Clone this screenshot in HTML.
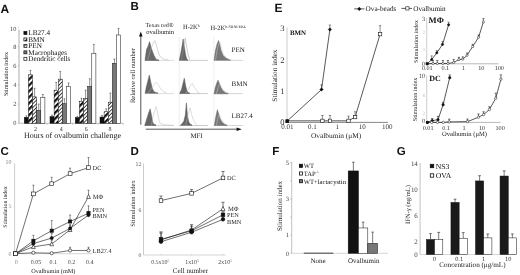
<!DOCTYPE html>
<html><head><meta charset="utf-8"><style>
html,body{margin:0;padding:0;background:#fff;}
svg{display:block;filter:grayscale(1);} text{text-rendering:geometricPrecision;}
</style></head><body>
<svg width="520" height="275" viewBox="0 0 520 275">
<defs>
<pattern id="pBMN" patternUnits="userSpaceOnUse" width="4.2" height="4.2" patternTransform="rotate(45)">
  <rect width="4.2" height="4.2" fill="#fff"/><rect width="2.2" height="4.2" fill="#111"/>
</pattern>
<pattern id="pPEN" patternUnits="userSpaceOnUse" width="2.6" height="2.6" patternTransform="rotate(45)">
  <rect width="2.6" height="2.6" fill="#fff"/><rect width="0.9" height="2.6" fill="#333"/>
</pattern>
</defs>
<rect width="520" height="275" fill="#fff"/>
<text x="0.50" y="12.50" font-size="12" text-anchor="start" fill="#111" font-weight="bold" font-family='"Liberation Sans", sans-serif'>A</text>
<line x1="19.00" y1="29.50" x2="19.00" y2="123.30" stroke="#777" stroke-width="0.6"/>
<line x1="19.00" y1="123.30" x2="123.50" y2="123.30" stroke="#999" stroke-width="0.6"/>
<line x1="17.80" y1="123.30" x2="19.00" y2="123.30" stroke="#777" stroke-width="0.4"/>
<text x="16.40" y="125.40" font-size="6.3" text-anchor="end" fill="#444" font-weight="normal" font-family='"Liberation Serif", serif'>0</text>
<line x1="17.80" y1="104.10" x2="19.00" y2="104.10" stroke="#777" stroke-width="0.4"/>
<text x="16.40" y="106.20" font-size="6.3" text-anchor="end" fill="#444" font-weight="normal" font-family='"Liberation Serif", serif'>2</text>
<line x1="17.80" y1="84.90" x2="19.00" y2="84.90" stroke="#777" stroke-width="0.4"/>
<text x="16.40" y="87.00" font-size="6.3" text-anchor="end" fill="#444" font-weight="normal" font-family='"Liberation Serif", serif'>4</text>
<line x1="17.80" y1="65.70" x2="19.00" y2="65.70" stroke="#777" stroke-width="0.4"/>
<text x="16.40" y="67.80" font-size="6.3" text-anchor="end" fill="#444" font-weight="normal" font-family='"Liberation Serif", serif'>6</text>
<line x1="17.80" y1="46.50" x2="19.00" y2="46.50" stroke="#777" stroke-width="0.4"/>
<text x="16.40" y="48.60" font-size="6.3" text-anchor="end" fill="#444" font-weight="normal" font-family='"Liberation Serif", serif'>8</text>
<line x1="17.80" y1="27.30" x2="19.00" y2="27.30" stroke="#777" stroke-width="0.4"/>
<text x="16.40" y="31.40" font-size="6.3" text-anchor="end" fill="#444" font-weight="normal" font-family='"Liberation Serif", serif'>10</text>
<line x1="47.20" y1="123.30" x2="47.20" y2="124.80" stroke="#999" stroke-width="0.5"/>
<line x1="72.60" y1="123.30" x2="72.60" y2="124.80" stroke="#999" stroke-width="0.5"/>
<line x1="97.80" y1="123.30" x2="97.80" y2="124.80" stroke="#999" stroke-width="0.5"/>
<line x1="123.20" y1="123.30" x2="123.20" y2="124.80" stroke="#999" stroke-width="0.5"/>
<text x="7.60" y="74.00" font-size="6.2" text-anchor="middle" fill="#222" font-weight="normal" font-family='"Liberation Serif", serif' transform="rotate(-90 7.60 74.00)">Stimulation index</text>
<text x="72.50" y="138.00" font-size="8.0" text-anchor="middle" fill="#222" font-weight="normal" font-family='"Liberation Serif", serif'>Hours of ovalbumin challenge</text>
<text x="35.40" y="131.30" font-size="6" text-anchor="middle" fill="#333" font-weight="normal" font-family='"Liberation Serif", serif'>2</text>
<text x="61.20" y="131.30" font-size="6" text-anchor="middle" fill="#333" font-weight="normal" font-family='"Liberation Serif", serif'>4</text>
<text x="86.20" y="131.30" font-size="6" text-anchor="middle" fill="#333" font-weight="normal" font-family='"Liberation Serif", serif'>6</text>
<text x="110.00" y="131.30" font-size="6" text-anchor="middle" fill="#333" font-weight="normal" font-family='"Liberation Serif", serif'>8</text>
<rect x="24.30" y="117.25" width="4.12" height="6.05" fill="#111" stroke="#111" stroke-width="0.5"/>
<line x1="26.36" y1="117.25" x2="26.36" y2="115.81" stroke="#222" stroke-width="0.5"/>
<line x1="25.46" y1="115.81" x2="27.26" y2="115.81" stroke="#222" stroke-width="0.5"/>
<rect x="28.42" y="74.82" width="4.12" height="48.48" fill="url(#pBMN)" stroke="#111" stroke-width="0.5"/>
<line x1="30.48" y1="74.82" x2="30.48" y2="70.50" stroke="#222" stroke-width="0.5"/>
<line x1="29.58" y1="70.50" x2="31.38" y2="70.50" stroke="#222" stroke-width="0.5"/>
<rect x="32.54" y="96.90" width="4.12" height="26.40" fill="url(#pPEN)" stroke="#111" stroke-width="0.5"/>
<line x1="34.60" y1="96.90" x2="34.60" y2="88.26" stroke="#222" stroke-width="0.5"/>
<line x1="33.70" y1="88.26" x2="35.50" y2="88.26" stroke="#222" stroke-width="0.5"/>
<rect x="36.66" y="110.34" width="4.12" height="12.96" fill="#777" stroke="#111" stroke-width="0.5"/>
<line x1="38.72" y1="110.34" x2="38.72" y2="104.10" stroke="#222" stroke-width="0.5"/>
<line x1="37.82" y1="104.10" x2="39.62" y2="104.10" stroke="#222" stroke-width="0.5"/>
<rect x="40.78" y="97.38" width="4.12" height="25.92" fill="#fff" stroke="#111" stroke-width="0.5"/>
<line x1="42.84" y1="97.38" x2="42.84" y2="94.50" stroke="#222" stroke-width="0.5"/>
<line x1="41.94" y1="94.50" x2="43.74" y2="94.50" stroke="#222" stroke-width="0.5"/>
<rect x="50.00" y="116.58" width="4.12" height="6.72" fill="#111" stroke="#111" stroke-width="0.5"/>
<line x1="52.06" y1="116.58" x2="52.06" y2="115.14" stroke="#222" stroke-width="0.5"/>
<line x1="51.16" y1="115.14" x2="52.96" y2="115.14" stroke="#222" stroke-width="0.5"/>
<rect x="54.12" y="90.18" width="4.12" height="33.12" fill="url(#pBMN)" stroke="#111" stroke-width="0.5"/>
<line x1="56.18" y1="90.18" x2="56.18" y2="82.50" stroke="#222" stroke-width="0.5"/>
<line x1="55.28" y1="82.50" x2="57.08" y2="82.50" stroke="#222" stroke-width="0.5"/>
<rect x="58.24" y="79.14" width="4.12" height="44.16" fill="url(#pPEN)" stroke="#111" stroke-width="0.5"/>
<line x1="60.30" y1="79.14" x2="60.30" y2="71.46" stroke="#222" stroke-width="0.5"/>
<line x1="59.40" y1="71.46" x2="61.20" y2="71.46" stroke="#222" stroke-width="0.5"/>
<rect x="62.36" y="103.62" width="4.12" height="19.68" fill="#777" stroke="#111" stroke-width="0.5"/>
<line x1="64.42" y1="103.62" x2="64.42" y2="98.82" stroke="#222" stroke-width="0.5"/>
<line x1="63.52" y1="98.82" x2="65.32" y2="98.82" stroke="#222" stroke-width="0.5"/>
<rect x="66.48" y="86.34" width="4.12" height="36.96" fill="#fff" stroke="#111" stroke-width="0.5"/>
<line x1="68.54" y1="86.34" x2="68.54" y2="82.98" stroke="#222" stroke-width="0.5"/>
<line x1="67.64" y1="82.98" x2="69.44" y2="82.98" stroke="#222" stroke-width="0.5"/>
<rect x="75.30" y="117.54" width="4.12" height="5.76" fill="#111" stroke="#111" stroke-width="0.5"/>
<line x1="77.36" y1="117.54" x2="77.36" y2="116.39" stroke="#222" stroke-width="0.5"/>
<line x1="76.46" y1="116.39" x2="78.26" y2="116.39" stroke="#222" stroke-width="0.5"/>
<rect x="79.42" y="101.22" width="4.12" height="22.08" fill="url(#pBMN)" stroke="#111" stroke-width="0.5"/>
<line x1="81.48" y1="101.22" x2="81.48" y2="98.34" stroke="#222" stroke-width="0.5"/>
<line x1="80.58" y1="98.34" x2="82.38" y2="98.34" stroke="#222" stroke-width="0.5"/>
<rect x="83.54" y="98.34" width="4.12" height="24.96" fill="url(#pPEN)" stroke="#111" stroke-width="0.5"/>
<line x1="85.60" y1="98.34" x2="85.60" y2="90.18" stroke="#222" stroke-width="0.5"/>
<line x1="84.70" y1="90.18" x2="86.50" y2="90.18" stroke="#222" stroke-width="0.5"/>
<rect x="87.66" y="86.44" width="4.12" height="36.86" fill="#777" stroke="#111" stroke-width="0.5"/>
<line x1="89.72" y1="86.44" x2="89.72" y2="78.76" stroke="#222" stroke-width="0.5"/>
<line x1="88.82" y1="78.76" x2="90.62" y2="78.76" stroke="#222" stroke-width="0.5"/>
<rect x="91.78" y="53.22" width="4.12" height="70.08" fill="#fff" stroke="#111" stroke-width="0.5"/>
<line x1="93.84" y1="53.22" x2="93.84" y2="44.39" stroke="#222" stroke-width="0.5"/>
<line x1="92.94" y1="44.39" x2="94.74" y2="44.39" stroke="#222" stroke-width="0.5"/>
<rect x="100.00" y="117.06" width="4.12" height="6.24" fill="#111" stroke="#111" stroke-width="0.5"/>
<line x1="102.06" y1="117.06" x2="102.06" y2="115.62" stroke="#222" stroke-width="0.5"/>
<line x1="101.16" y1="115.62" x2="102.96" y2="115.62" stroke="#222" stroke-width="0.5"/>
<rect x="104.12" y="111.78" width="4.12" height="11.52" fill="url(#pBMN)" stroke="#111" stroke-width="0.5"/>
<line x1="106.18" y1="111.78" x2="106.18" y2="108.90" stroke="#222" stroke-width="0.5"/>
<line x1="105.28" y1="108.90" x2="107.08" y2="108.90" stroke="#222" stroke-width="0.5"/>
<rect x="108.24" y="102.18" width="4.12" height="21.12" fill="url(#pPEN)" stroke="#111" stroke-width="0.5"/>
<line x1="110.30" y1="102.18" x2="110.30" y2="93.06" stroke="#222" stroke-width="0.5"/>
<line x1="109.40" y1="93.06" x2="111.20" y2="93.06" stroke="#222" stroke-width="0.5"/>
<rect x="112.36" y="63.30" width="4.12" height="60.00" fill="#777" stroke="#111" stroke-width="0.5"/>
<line x1="114.42" y1="63.30" x2="114.42" y2="58.98" stroke="#222" stroke-width="0.5"/>
<line x1="113.52" y1="58.98" x2="115.32" y2="58.98" stroke="#222" stroke-width="0.5"/>
<rect x="116.48" y="34.98" width="4.12" height="88.32" fill="#fff" stroke="#111" stroke-width="0.5"/>
<line x1="118.54" y1="34.98" x2="118.54" y2="28.45" stroke="#222" stroke-width="0.5"/>
<line x1="117.64" y1="28.45" x2="119.44" y2="28.45" stroke="#222" stroke-width="0.5"/>
<rect x="23.90" y="31.50" width="3.00" height="3.00" fill="#111" stroke="#111" stroke-width="0.7"/>
<text x="28.30" y="35.30" font-size="7.2" text-anchor="start" fill="#111" font-weight="normal" font-family='"Liberation Serif", serif'>LB27.4</text>
<rect x="23.90" y="37.95" width="3.00" height="3.00" fill="url(#pBMN)" stroke="#111" stroke-width="0.7"/>
<text x="28.30" y="41.75" font-size="7.2" text-anchor="start" fill="#111" font-weight="normal" font-family='"Liberation Serif", serif'>BMN</text>
<rect x="23.90" y="44.40" width="3.00" height="3.00" fill="url(#pPEN)" stroke="#111" stroke-width="0.7"/>
<text x="28.30" y="48.20" font-size="7.2" text-anchor="start" fill="#111" font-weight="normal" font-family='"Liberation Serif", serif'>PEN</text>
<rect x="23.90" y="50.85" width="3.00" height="3.00" fill="#777" stroke="#111" stroke-width="0.7"/>
<text x="28.30" y="54.65" font-size="7.2" text-anchor="start" fill="#111" font-weight="normal" font-family='"Liberation Serif", serif'>Macrophages</text>
<rect x="23.90" y="57.30" width="3.00" height="3.00" fill="#fff" stroke="#111" stroke-width="0.7"/>
<text x="28.30" y="61.10" font-size="7.2" text-anchor="start" fill="#111" font-weight="normal" font-family='"Liberation Serif", serif'>Dendritic cells</text>
<text x="130.60" y="10.00" font-size="11.5" text-anchor="start" fill="#111" font-weight="bold" font-family='"Liberation Sans", sans-serif'>B</text>
<text x="159.50" y="27.00" font-size="6.1" text-anchor="middle" fill="#222" font-weight="normal" font-family='"Liberation Serif", serif'>Texas red&#174;</text>
<text x="160.20" y="34.20" font-size="6.5" text-anchor="middle" fill="#222" font-weight="normal" font-family='"Liberation Serif", serif'>ovalbumin</text>
<text x="183.00" y="29.40" font-size="6.5" text-anchor="start" fill="#222" font-weight="normal" font-family='"Liberation Serif", serif'>H-2K<tspan font-size="3.8" dy="-2.2">b</tspan></text>
<text x="210.40" y="29.50" font-size="6.5" text-anchor="start" fill="#222" font-weight="normal" font-family='"Liberation Serif", serif'>H-2K<tspan font-size="4.0" dy="-2.0">b-SIINFEKL</tspan></text>
<line x1="140.80" y1="35.00" x2="140.80" y2="124.70" stroke="#555" stroke-width="1.0"/>
<path d="M140.8 31.6 L142.6 36.4 L139.0 36.4 Z" fill="#111" stroke="none" stroke-width="0.7"/>
<text x="135.00" y="75.60" font-size="6.6" text-anchor="middle" fill="#222" font-weight="normal" font-family='"Liberation Serif", serif' transform="rotate(-90 135.00 75.60)">Relative cell number</text>
<line x1="145.80" y1="129.20" x2="237.00" y2="129.20" stroke="#555" stroke-width="1.0"/>
<path d="M241.8 129.2 L236.6 127.4 L236.6 131.0 Z" fill="#111" stroke="none" stroke-width="0.7"/>
<text x="196.50" y="138.30" font-size="6.8" text-anchor="middle" fill="#222" font-weight="normal" font-family='"Liberation Serif", serif'>MFI</text>
<text x="231.60" y="51.80" font-size="7.0" text-anchor="start" fill="#222" font-weight="normal" font-family='"Liberation Serif", serif'>PEN</text>
<text x="231.60" y="85.80" font-size="7.0" text-anchor="start" fill="#222" font-weight="normal" font-family='"Liberation Serif", serif'>BMN</text>
<text x="231.60" y="118.20" font-size="7.0" text-anchor="start" fill="#222" font-weight="normal" font-family='"Liberation Serif", serif'>LB27.4</text>
<line x1="179.20" y1="37.00" x2="179.20" y2="127.00" stroke="#e2e2e2" stroke-width="0.6"/>
<line x1="213.90" y1="37.00" x2="213.90" y2="127.00" stroke="#e2e2e2" stroke-width="0.6"/>
<line x1="145.00" y1="60.40" x2="174.00" y2="60.40" stroke="#c4c4c4" stroke-width="0.6"/>
<line x1="179.50" y1="60.40" x2="208.00" y2="60.40" stroke="#aaa" stroke-width="0.6"/>
<line x1="213.80" y1="60.40" x2="243.00" y2="60.40" stroke="#bbb" stroke-width="0.6"/>
<line x1="145.00" y1="93.60" x2="174.00" y2="93.60" stroke="#c4c4c4" stroke-width="0.6"/>
<line x1="179.50" y1="93.60" x2="208.00" y2="93.60" stroke="#aaa" stroke-width="0.6"/>
<line x1="213.80" y1="93.60" x2="243.00" y2="93.60" stroke="#bbb" stroke-width="0.6"/>
<line x1="145.00" y1="125.50" x2="174.00" y2="125.50" stroke="#c4c4c4" stroke-width="0.6"/>
<line x1="179.50" y1="125.50" x2="208.00" y2="125.50" stroke="#aaa" stroke-width="0.6"/>
<line x1="213.80" y1="125.50" x2="243.00" y2="125.50" stroke="#bbb" stroke-width="0.6"/>
<path d="M145.00 60.40 L146.50 49.40 L148.00 46.40 L149.60 41.60 L151.00 47.40 L152.50 51.40 L154.00 55.40 L156.20 59.40 L159.00 60.20 L159.00 60.40 Z" fill="#6a6a6a" stroke="#555" stroke-width="0.5"/>
<path d="M147.50 60.40 L150.50 50.40 L152.50 44.40 L154.70 40.60 L156.50 45.40 L158.00 51.40 L160.00 56.40 L163.00 58.90 L168.40 60.10" fill="none" stroke="#aaa" stroke-width="0.5" stroke-linejoin="round"/>
<path d="M179.30 60.20 L181.00 52.20 L182.20 45.20 L183.10 39.00 L184.20 46.20 L185.50 54.20 L186.70 59.00 L188.00 60.00 L188.00 60.20 Z" fill="#666" stroke="#555" stroke-width="0.5"/>
<path d="M181.50 60.20 L183.50 48.20 L185.20 38.20 L186.50 46.20 L188.00 54.20 L189.70 59.70" fill="none" stroke="#999" stroke-width="0.5" stroke-linejoin="round"/>
<path d="M214.10 60.20 L215.50 50.20 L217.00 44.20 L218.50 40.60 L219.50 43.20 L221.00 50.20 L223.00 55.20 L226.00 58.20 L230.30 60.00 L230.30 60.20 Z" fill="#777" stroke="#666" stroke-width="0.5"/>
<path d="M215.50 60.20 L217.50 48.20 L219.60 41.20 L221.50 48.20 L224.00 55.20 L228.00 58.70 L232.00 60.00" fill="none" stroke="#ccc" stroke-width="0.5" stroke-linejoin="round"/>
<path d="M145.10 93.20 L146.50 86.20 L147.80 81.20 L149.30 75.10 L150.80 82.20 L152.20 88.20 L153.80 91.40 L156.00 92.70 L158.00 93.10 L158.00 93.20 Z" fill="#666" stroke="#555" stroke-width="0.5"/>
<path d="M148.00 93.20 L151.00 89.20 L153.50 85.20 L156.20 82.20 L158.50 85.20 L161.00 89.20 L163.50 91.70 L166.40 92.90" fill="none" stroke="#bbb" stroke-width="0.5" stroke-linejoin="round"/>
<path d="M179.60 93.40 L181.50 89.40 L183.00 83.40 L184.30 78.20 L185.50 85.40 L187.00 90.90 L188.70 92.90 L190.00 93.30 L190.00 93.40 Z" fill="#666" stroke="#555" stroke-width="0.5"/>
<path d="M186.00 93.40 L188.50 89.40 L190.50 85.40 L192.30 83.30 L194.50 87.40 L197.00 91.40 L199.40 93.10" fill="none" stroke="#bbb" stroke-width="0.5" stroke-linejoin="round"/>
<path d="M214.10 93.80 L215.20 87.80 L216.50 83.80 L218.00 80.20 L219.50 83.80 L221.00 87.80 L223.00 90.80 L225.50 92.80 L228.30 93.60 L228.30 93.80 Z" fill="#777" stroke="#666" stroke-width="0.5"/>
<path d="M216.50 93.80 L218.50 85.80 L220.00 83.80 L222.00 87.80 L225.00 91.30 L229.00 93.50" fill="none" stroke="#ccc" stroke-width="0.5" stroke-linejoin="round"/>
<path d="M144.70 125.40 L146.00 121.40 L147.50 116.40 L148.80 112.40 L150.20 108.90 L151.50 115.40 L152.60 121.40 L153.50 123.90 L156.00 125.10 L156.00 125.40 Z" fill="#666" stroke="#555" stroke-width="0.5"/>
<path d="M151.50 125.40 L153.00 116.40 L154.80 110.40 L156.20 106.70 L157.50 113.40 L158.80 119.40 L160.00 123.40 L165.00 124.80 L173.60 125.20" fill="none" stroke="#bbb" stroke-width="0.5" stroke-linejoin="round"/>
<path d="M180.40 125.30 L182.00 123.80 L183.80 121.30 L185.30 115.30 L186.40 102.90 L187.40 115.30 L188.60 121.30 L190.00 124.10 L192.00 125.00 L192.00 125.30 Z" fill="#666" stroke="#555" stroke-width="0.5"/>
<path d="M185.50 125.30 L187.50 117.30 L189.00 111.30 L190.20 107.80 L191.50 114.30 L193.50 120.30 L196.70 124.80" fill="none" stroke="#bbb" stroke-width="0.5" stroke-linejoin="round"/>
<path d="M214.40 125.40 L215.30 119.40 L216.30 114.40 L217.40 109.70 L218.50 113.40 L220.00 118.40 L222.00 121.90 L224.50 124.20 L227.00 125.20 L227.00 125.40 Z" fill="#777" stroke="#666" stroke-width="0.5"/>
<path d="M216.50 125.40 L218.00 117.40 L219.50 114.40 L221.00 118.40 L224.00 122.90 L228.00 125.10" fill="none" stroke="#ccc" stroke-width="0.5" stroke-linejoin="round"/>
<text x="0.50" y="154.90" font-size="11.5" text-anchor="start" fill="#111" font-weight="bold" font-family='"Liberation Sans", sans-serif'>C</text>
<line x1="14.60" y1="163.50" x2="14.60" y2="253.70" stroke="#aaa" stroke-width="0.6"/>
<line x1="14.60" y1="253.70" x2="92.00" y2="253.70" stroke="#bbb" stroke-width="0.6"/>
<text x="11.40" y="255.70" font-size="5.9" text-anchor="end" fill="#888" font-weight="normal" font-family='"Liberation Serif", serif'>0</text>
<text x="11.40" y="208.00" font-size="5.9" text-anchor="end" fill="#888" font-weight="normal" font-family='"Liberation Serif", serif'>5</text>
<text x="11.40" y="164.40" font-size="5.9" text-anchor="end" fill="#888" font-weight="normal" font-family='"Liberation Serif", serif'>10</text>
<text x="16.20" y="264.10" font-size="6.0" text-anchor="middle" fill="#888" font-weight="normal" font-family='"Liberation Serif", serif'>0</text>
<text x="36.00" y="264.10" font-size="6.0" text-anchor="middle" fill="#444" font-weight="normal" font-family='"Liberation Serif", serif'>0.05</text>
<text x="53.30" y="264.10" font-size="6.0" text-anchor="middle" fill="#444" font-weight="normal" font-family='"Liberation Serif", serif'>0.1</text>
<text x="71.50" y="264.10" font-size="6.0" text-anchor="middle" fill="#444" font-weight="normal" font-family='"Liberation Serif", serif'>0.2</text>
<text x="89.80" y="264.10" font-size="6.0" text-anchor="middle" fill="#444" font-weight="normal" font-family='"Liberation Serif", serif'>0.4</text>
<text x="7.30" y="207.00" font-size="5.8" text-anchor="middle" fill="#222" font-weight="normal" font-family='"Liberation Serif", serif' transform="rotate(-90 7.30 207.00)">Stimulation index</text>
<text x="53.30" y="272.60" font-size="6.25" text-anchor="middle" fill="#222" font-weight="normal" font-family='"Liberation Serif", serif'>Ovalbumin (mM)</text>
<path d="M15.50 253.70 L33.40 193.90 L51.70 183.78 L70.10 173.66 L88.50 167.68" fill="none" stroke="#111" stroke-width="0.6"/>
<path d="M15.50 253.70 L33.40 246.80 L51.70 244.04 L70.10 229.78 L88.50 196.66" fill="none" stroke="#111" stroke-width="0.6"/>
<path d="M15.50 253.70 L33.40 240.82 L51.70 230.70 L70.10 221.50 L88.50 213.22" fill="none" stroke="#111" stroke-width="0.6"/>
<path d="M15.50 253.70 L33.40 243.58 L51.70 238.06 L70.10 228.40 L88.50 215.06" fill="none" stroke="#111" stroke-width="0.6"/>
<path d="M15.50 253.70 L33.40 252.78 L51.70 253.24 L70.10 250.48 L88.50 250.48" fill="none" stroke="#111" stroke-width="0.6"/>
<line x1="33.40" y1="193.90" x2="33.40" y2="185.16" stroke="#222" stroke-width="0.5"/>
<line x1="32.40" y1="185.16" x2="34.40" y2="185.16" stroke="#222" stroke-width="0.5"/>
<line x1="51.70" y1="183.78" x2="51.70" y2="177.34" stroke="#222" stroke-width="0.5"/>
<line x1="50.70" y1="177.34" x2="52.70" y2="177.34" stroke="#222" stroke-width="0.5"/>
<line x1="70.10" y1="173.66" x2="70.10" y2="168.14" stroke="#222" stroke-width="0.5"/>
<line x1="69.10" y1="168.14" x2="71.10" y2="168.14" stroke="#222" stroke-width="0.5"/>
<line x1="88.50" y1="167.68" x2="88.50" y2="157.56" stroke="#222" stroke-width="0.5"/>
<line x1="87.50" y1="157.56" x2="89.50" y2="157.56" stroke="#222" stroke-width="0.5"/>
<line x1="33.40" y1="246.80" x2="33.40" y2="244.04" stroke="#222" stroke-width="0.5"/>
<line x1="32.40" y1="244.04" x2="34.40" y2="244.04" stroke="#222" stroke-width="0.5"/>
<line x1="51.70" y1="244.04" x2="51.70" y2="240.36" stroke="#222" stroke-width="0.5"/>
<line x1="50.70" y1="240.36" x2="52.70" y2="240.36" stroke="#222" stroke-width="0.5"/>
<line x1="70.10" y1="229.78" x2="70.10" y2="225.18" stroke="#222" stroke-width="0.5"/>
<line x1="69.10" y1="225.18" x2="71.10" y2="225.18" stroke="#222" stroke-width="0.5"/>
<line x1="88.50" y1="196.66" x2="88.50" y2="190.22" stroke="#222" stroke-width="0.5"/>
<line x1="87.50" y1="190.22" x2="89.50" y2="190.22" stroke="#222" stroke-width="0.5"/>
<line x1="33.40" y1="240.82" x2="33.40" y2="235.30" stroke="#222" stroke-width="0.5"/>
<line x1="32.40" y1="235.30" x2="34.40" y2="235.30" stroke="#222" stroke-width="0.5"/>
<line x1="51.70" y1="230.70" x2="51.70" y2="220.58" stroke="#222" stroke-width="0.5"/>
<line x1="50.70" y1="220.58" x2="52.70" y2="220.58" stroke="#222" stroke-width="0.5"/>
<line x1="70.10" y1="221.50" x2="70.10" y2="215.06" stroke="#222" stroke-width="0.5"/>
<line x1="69.10" y1="215.06" x2="71.10" y2="215.06" stroke="#222" stroke-width="0.5"/>
<line x1="88.50" y1="213.22" x2="88.50" y2="205.86" stroke="#222" stroke-width="0.5"/>
<line x1="87.50" y1="205.86" x2="89.50" y2="205.86" stroke="#222" stroke-width="0.5"/>
<line x1="33.40" y1="243.58" x2="33.40" y2="239.90" stroke="#222" stroke-width="0.5"/>
<line x1="32.40" y1="239.90" x2="34.40" y2="239.90" stroke="#222" stroke-width="0.5"/>
<line x1="51.70" y1="238.06" x2="51.70" y2="233.46" stroke="#222" stroke-width="0.5"/>
<line x1="50.70" y1="233.46" x2="52.70" y2="233.46" stroke="#222" stroke-width="0.5"/>
<line x1="70.10" y1="228.40" x2="70.10" y2="224.72" stroke="#222" stroke-width="0.5"/>
<line x1="69.10" y1="224.72" x2="71.10" y2="224.72" stroke="#222" stroke-width="0.5"/>
<line x1="88.50" y1="215.06" x2="88.50" y2="211.38" stroke="#222" stroke-width="0.5"/>
<line x1="87.50" y1="211.38" x2="89.50" y2="211.38" stroke="#222" stroke-width="0.5"/>
<line x1="33.40" y1="252.78" x2="33.40" y2="252.32" stroke="#222" stroke-width="0.5"/>
<line x1="32.40" y1="252.32" x2="34.40" y2="252.32" stroke="#222" stroke-width="0.5"/>
<line x1="51.70" y1="253.24" x2="51.70" y2="252.78" stroke="#222" stroke-width="0.5"/>
<line x1="50.70" y1="252.78" x2="52.70" y2="252.78" stroke="#222" stroke-width="0.5"/>
<line x1="70.10" y1="250.48" x2="70.10" y2="247.26" stroke="#222" stroke-width="0.5"/>
<line x1="69.10" y1="247.26" x2="71.10" y2="247.26" stroke="#222" stroke-width="0.5"/>
<line x1="88.50" y1="250.48" x2="88.50" y2="247.26" stroke="#222" stroke-width="0.5"/>
<line x1="87.50" y1="247.26" x2="89.50" y2="247.26" stroke="#222" stroke-width="0.5"/>
<rect x="13.60" y="251.80" width="3.80" height="3.80" fill="#fff" stroke="#111" stroke-width="0.6"/>
<rect x="31.50" y="192.00" width="3.80" height="3.80" fill="#fff" stroke="#111" stroke-width="0.6"/>
<rect x="49.80" y="181.88" width="3.80" height="3.80" fill="#fff" stroke="#111" stroke-width="0.6"/>
<rect x="68.20" y="171.76" width="3.80" height="3.80" fill="#fff" stroke="#111" stroke-width="0.6"/>
<rect x="86.60" y="165.78" width="3.80" height="3.80" fill="#fff" stroke="#111" stroke-width="0.6"/>
<path d="M15.50 251.51 L17.40 255.45 L13.60 255.45 Z" fill="#fff" stroke="#111" stroke-width="0.6"/>
<path d="M33.40 244.61 L35.30 248.55 L31.50 248.55 Z" fill="#fff" stroke="#111" stroke-width="0.6"/>
<path d="M51.70 241.85 L53.60 245.79 L49.80 245.79 Z" fill="#fff" stroke="#111" stroke-width="0.6"/>
<path d="M70.10 227.59 L72.00 231.53 L68.20 231.53 Z" fill="#fff" stroke="#111" stroke-width="0.6"/>
<path d="M88.50 194.47 L90.40 198.41 L86.60 198.41 Z" fill="#fff" stroke="#111" stroke-width="0.6"/>
<rect x="13.90" y="252.10" width="3.20" height="3.20" fill="#111" stroke="#111" stroke-width="0.6"/>
<rect x="31.80" y="239.22" width="3.20" height="3.20" fill="#111" stroke="#111" stroke-width="0.6"/>
<rect x="50.10" y="229.10" width="3.20" height="3.20" fill="#111" stroke="#111" stroke-width="0.6"/>
<rect x="68.50" y="219.90" width="3.20" height="3.20" fill="#111" stroke="#111" stroke-width="0.6"/>
<rect x="86.90" y="211.62" width="3.20" height="3.20" fill="#111" stroke="#111" stroke-width="0.6"/>
<circle cx="15.50" cy="253.70" r="1.60" fill="#111" stroke="#111" stroke-width="0.6"/>
<circle cx="33.40" cy="243.58" r="1.60" fill="#111" stroke="#111" stroke-width="0.6"/>
<circle cx="51.70" cy="238.06" r="1.60" fill="#111" stroke="#111" stroke-width="0.6"/>
<circle cx="70.10" cy="228.40" r="1.60" fill="#111" stroke="#111" stroke-width="0.6"/>
<circle cx="88.50" cy="215.06" r="1.60" fill="#111" stroke="#111" stroke-width="0.6"/>
<circle cx="15.50" cy="253.70" r="1.60" fill="#fff" stroke="#111" stroke-width="0.6"/>
<circle cx="33.40" cy="252.78" r="1.60" fill="#fff" stroke="#111" stroke-width="0.6"/>
<circle cx="51.70" cy="253.24" r="1.60" fill="#fff" stroke="#111" stroke-width="0.6"/>
<circle cx="70.10" cy="250.48" r="1.60" fill="#fff" stroke="#111" stroke-width="0.6"/>
<circle cx="88.50" cy="250.48" r="1.60" fill="#fff" stroke="#111" stroke-width="0.6"/>
<rect x="13.60" y="251.80" width="3.80" height="3.80" fill="#fff" stroke="#111" stroke-width="0.6"/>
<text x="92.60" y="169.50" font-size="6.3" text-anchor="start" fill="#222" font-weight="normal" font-family='"Liberation Serif", serif'>DC</text>
<text x="92.60" y="211.50" font-size="6.3" text-anchor="start" fill="#222" font-weight="normal" font-family='"Liberation Serif", serif'>PEN</text>
<text x="92.60" y="217.80" font-size="6.3" text-anchor="start" fill="#222" font-weight="normal" font-family='"Liberation Serif", serif'>BMN</text>
<text x="92.60" y="253.00" font-size="6.3" text-anchor="start" fill="#222" font-weight="normal" font-family='"Liberation Serif", serif'>LB27.4</text>
<text x="92.70" y="198.70" font-size="6.6" text-anchor="start" fill="#222" font-weight="normal" font-family='"Liberation Serif", serif'>M&#934;</text>
<text x="130.60" y="154.90" font-size="11.5" text-anchor="start" fill="#111" font-weight="bold" font-family='"Liberation Sans", sans-serif'>D</text>
<line x1="143.50" y1="163.50" x2="143.50" y2="255.00" stroke="#aaa" stroke-width="0.6"/>
<line x1="143.50" y1="255.00" x2="225.50" y2="255.00" stroke="#bbb" stroke-width="0.6"/>
<text x="141.30" y="257.00" font-size="5.8" text-anchor="end" fill="#555" font-weight="normal" font-family='"Liberation Serif", serif'>0</text>
<text x="141.30" y="211.52" font-size="5.8" text-anchor="end" fill="#555" font-weight="normal" font-family='"Liberation Serif", serif'>6</text>
<text x="141.30" y="166.04" font-size="5.8" text-anchor="end" fill="#555" font-weight="normal" font-family='"Liberation Serif", serif'>12</text>
<line x1="161.00" y1="255.00" x2="161.00" y2="253.80" stroke="#bbb" stroke-width="0.5"/>
<line x1="191.60" y1="255.00" x2="191.60" y2="253.80" stroke="#bbb" stroke-width="0.5"/>
<line x1="223.00" y1="255.00" x2="223.00" y2="253.80" stroke="#bbb" stroke-width="0.5"/>
<text x="160.20" y="264.00" font-size="5.9" text-anchor="middle" fill="#444" font-weight="normal" font-family='"Liberation Serif", serif'>0.5x10<tspan font-size="3.6" dy="-2.3">5</tspan></text>
<text x="192.00" y="264.00" font-size="5.9" text-anchor="middle" fill="#444" font-weight="normal" font-family='"Liberation Serif", serif'>1x10<tspan font-size="3.6" dy="-2.3">5</tspan></text>
<text x="225.10" y="264.00" font-size="5.9" text-anchor="middle" fill="#444" font-weight="normal" font-family='"Liberation Serif", serif'>2x10<tspan font-size="3.6" dy="-2.3">5</tspan></text>
<text x="135.40" y="203.50" font-size="6.5" text-anchor="middle" fill="#222" font-weight="normal" font-family='"Liberation Serif", serif' transform="rotate(-90 135.40 203.50)">Stimulation index</text>
<text x="190.50" y="272.60" font-size="7.1" text-anchor="middle" fill="#222" font-weight="normal" font-family='"Liberation Serif", serif'>Cell number</text>
<path d="M161.00 200.58 L191.60 193.37 L223.00 177.91" fill="none" stroke="#111" stroke-width="0.6"/>
<path d="M161.00 239.84 L191.60 229.99 L223.00 208.76" fill="none" stroke="#111" stroke-width="0.6"/>
<path d="M161.00 239.46 L191.60 230.74 L223.00 214.83" fill="none" stroke="#111" stroke-width="0.6"/>
<path d="M161.00 241.74 L191.60 232.26 L223.00 219.37" fill="none" stroke="#111" stroke-width="0.6"/>
<line x1="161.00" y1="200.58" x2="161.00" y2="196.03" stroke="#222" stroke-width="0.6"/>
<line x1="159.40" y1="196.03" x2="162.60" y2="196.03" stroke="#222" stroke-width="0.6"/>
<line x1="191.60" y1="193.37" x2="191.60" y2="189.58" stroke="#222" stroke-width="0.6"/>
<line x1="190.00" y1="189.58" x2="193.20" y2="189.58" stroke="#222" stroke-width="0.6"/>
<line x1="223.00" y1="177.91" x2="223.00" y2="171.47" stroke="#222" stroke-width="0.6"/>
<line x1="221.40" y1="171.47" x2="224.60" y2="171.47" stroke="#222" stroke-width="0.6"/>
<line x1="161.00" y1="239.84" x2="161.00" y2="231.88" stroke="#222" stroke-width="0.6"/>
<line x1="159.40" y1="231.88" x2="162.60" y2="231.88" stroke="#222" stroke-width="0.6"/>
<line x1="191.60" y1="229.99" x2="191.60" y2="224.68" stroke="#222" stroke-width="0.6"/>
<line x1="190.00" y1="224.68" x2="193.20" y2="224.68" stroke="#222" stroke-width="0.6"/>
<line x1="223.00" y1="208.76" x2="223.00" y2="202.32" stroke="#222" stroke-width="0.6"/>
<line x1="221.40" y1="202.32" x2="224.60" y2="202.32" stroke="#222" stroke-width="0.6"/>
<line x1="161.00" y1="239.46" x2="161.00" y2="233.02" stroke="#222" stroke-width="0.6"/>
<line x1="159.40" y1="233.02" x2="162.60" y2="233.02" stroke="#222" stroke-width="0.6"/>
<line x1="191.60" y1="230.74" x2="191.60" y2="226.20" stroke="#222" stroke-width="0.6"/>
<line x1="190.00" y1="226.20" x2="193.20" y2="226.20" stroke="#222" stroke-width="0.6"/>
<line x1="223.00" y1="214.83" x2="223.00" y2="211.79" stroke="#222" stroke-width="0.6"/>
<line x1="221.40" y1="211.79" x2="224.60" y2="211.79" stroke="#222" stroke-width="0.6"/>
<line x1="161.00" y1="241.74" x2="161.00" y2="239.46" stroke="#222" stroke-width="0.6"/>
<line x1="159.40" y1="239.46" x2="162.60" y2="239.46" stroke="#222" stroke-width="0.6"/>
<line x1="191.60" y1="232.26" x2="191.60" y2="229.23" stroke="#222" stroke-width="0.6"/>
<line x1="190.00" y1="229.23" x2="193.20" y2="229.23" stroke="#222" stroke-width="0.6"/>
<line x1="223.00" y1="219.37" x2="223.00" y2="217.10" stroke="#222" stroke-width="0.6"/>
<line x1="221.40" y1="217.10" x2="224.60" y2="217.10" stroke="#222" stroke-width="0.6"/>
<rect x="159.20" y="198.78" width="3.60" height="3.60" fill="#fff" stroke="#111" stroke-width="0.6"/>
<rect x="189.80" y="191.57" width="3.60" height="3.60" fill="#fff" stroke="#111" stroke-width="0.6"/>
<rect x="221.20" y="176.11" width="3.60" height="3.60" fill="#fff" stroke="#111" stroke-width="0.6"/>
<path d="M161.00 237.54 L163.00 241.68 L159.00 241.68 Z" fill="#fff" stroke="#111" stroke-width="0.6"/>
<path d="M191.60 227.69 L193.60 231.83 L189.60 231.83 Z" fill="#fff" stroke="#111" stroke-width="0.6"/>
<path d="M223.00 206.46 L225.00 210.60 L221.00 210.60 Z" fill="#fff" stroke="#111" stroke-width="0.6"/>
<rect x="159.20" y="237.66" width="3.60" height="3.60" fill="#111" stroke="#111" stroke-width="0.6"/>
<rect x="189.80" y="228.94" width="3.60" height="3.60" fill="#111" stroke="#111" stroke-width="0.6"/>
<rect x="221.20" y="213.03" width="3.60" height="3.60" fill="#111" stroke="#111" stroke-width="0.6"/>
<circle cx="161.00" cy="241.74" r="1.80" fill="#111" stroke="#111" stroke-width="0.6"/>
<circle cx="191.60" cy="232.26" r="1.80" fill="#111" stroke="#111" stroke-width="0.6"/>
<circle cx="223.00" cy="219.37" r="1.80" fill="#111" stroke="#111" stroke-width="0.6"/>
<text x="227.00" y="180.20" font-size="6.3" text-anchor="start" fill="#222" font-weight="normal" font-family='"Liberation Serif", serif'>DC</text>
<text x="227.00" y="217.30" font-size="6.3" text-anchor="start" fill="#222" font-weight="normal" font-family='"Liberation Serif", serif'>PEN</text>
<text x="227.00" y="224.40" font-size="6.3" text-anchor="start" fill="#222" font-weight="normal" font-family='"Liberation Serif", serif'>BMN</text>
<text x="227.90" y="210.60" font-size="6.6" text-anchor="start" fill="#222" font-weight="normal" font-family='"Liberation Serif", serif'>M&#934;</text>
<text x="274.60" y="12.00" font-size="12" text-anchor="start" fill="#111" font-weight="bold" font-family='"Liberation Sans", sans-serif'>E</text>
<line x1="287.00" y1="27.50" x2="287.00" y2="122.40" stroke="#aaa" stroke-width="0.6"/>
<line x1="287.00" y1="122.40" x2="388.00" y2="122.40" stroke="#888" stroke-width="1.0"/>
<text x="284.40" y="125.30" font-size="8.5" text-anchor="end" fill="#333" font-weight="normal" font-family='"Liberation Serif", serif'>0</text>
<text x="284.40" y="94.00" font-size="8.5" text-anchor="end" fill="#333" font-weight="normal" font-family='"Liberation Serif", serif'>1</text>
<text x="284.40" y="62.70" font-size="8.5" text-anchor="end" fill="#333" font-weight="normal" font-family='"Liberation Serif", serif'>2</text>
<text x="284.40" y="31.40" font-size="8.5" text-anchor="end" fill="#333" font-weight="normal" font-family='"Liberation Serif", serif'>3</text>
<text x="287.30" y="129.40" font-size="7.0" text-anchor="middle" fill="#333" font-weight="normal" font-family='"Liberation Serif", serif'>0.01</text>
<text x="312.30" y="129.40" font-size="7.0" text-anchor="middle" fill="#333" font-weight="normal" font-family='"Liberation Serif", serif'>0.1</text>
<text x="337.30" y="129.40" font-size="7.0" text-anchor="middle" fill="#333" font-weight="normal" font-family='"Liberation Serif", serif'>1</text>
<text x="362.30" y="129.40" font-size="7.0" text-anchor="middle" fill="#333" font-weight="normal" font-family='"Liberation Serif", serif'>10</text>
<text x="387.30" y="129.40" font-size="7.0" text-anchor="middle" fill="#333" font-weight="normal" font-family='"Liberation Serif", serif'>100</text>
<text x="276.80" y="75.60" font-size="7.3" text-anchor="middle" fill="#222" font-weight="normal" font-family='"Liberation Serif", serif' transform="rotate(-90 276.80 75.60)">Stimulation index</text>
<text x="336.10" y="137.50" font-size="7.35" text-anchor="middle" fill="#222" font-weight="normal" font-family='"Liberation Serif", serif'>Ovalbumin (&#956;M)</text>
<text x="290.00" y="34.50" font-size="6.9" text-anchor="start" fill="#111" font-weight="bold" font-family='"Liberation Serif", serif'>BMN</text>
<path d="M287.40 120.84 L321.50 89.53 L329.90 29.44" fill="none" stroke="#111" stroke-width="0.7"/>
<line x1="321.50" y1="89.53" x2="321.50" y2="84.84" stroke="#222" stroke-width="0.5"/>
<line x1="320.30" y1="84.84" x2="322.70" y2="84.84" stroke="#222" stroke-width="0.5"/>
<line x1="329.90" y1="29.44" x2="329.90" y2="25.06" stroke="#222" stroke-width="0.5"/>
<line x1="328.70" y1="25.06" x2="331.10" y2="25.06" stroke="#222" stroke-width="0.5"/>
<path d="M287.40 119.04 L289.20 120.84 L287.40 122.64 L285.60 120.84 Z" fill="#111" stroke="#111" stroke-width="0.3"/>
<path d="M321.50 87.73 L323.30 89.53 L321.50 91.33 L319.70 89.53 Z" fill="#111" stroke="#111" stroke-width="0.3"/>
<path d="M329.90 27.64 L331.70 29.44 L329.90 31.24 L328.10 29.44 Z" fill="#111" stroke="#111" stroke-width="0.3"/>
<path d="M287.40 120.84 L322.40 120.84 L330.00 120.84 L348.50 120.84 L355.10 117.08 L380.10 34.13" fill="none" stroke="#111" stroke-width="0.7"/>
<line x1="322.40" y1="120.84" x2="322.40" y2="115.51" stroke="#222" stroke-width="0.5"/>
<line x1="321.20" y1="115.51" x2="323.60" y2="115.51" stroke="#222" stroke-width="0.5"/>
<line x1="330.00" y1="120.84" x2="330.00" y2="115.51" stroke="#222" stroke-width="0.5"/>
<line x1="328.80" y1="115.51" x2="331.20" y2="115.51" stroke="#222" stroke-width="0.5"/>
<line x1="348.50" y1="120.84" x2="348.50" y2="116.14" stroke="#222" stroke-width="0.5"/>
<line x1="347.30" y1="116.14" x2="349.70" y2="116.14" stroke="#222" stroke-width="0.5"/>
<line x1="355.10" y1="117.08" x2="355.10" y2="111.76" stroke="#222" stroke-width="0.5"/>
<line x1="353.90" y1="111.76" x2="356.30" y2="111.76" stroke="#222" stroke-width="0.5"/>
<line x1="380.10" y1="34.13" x2="380.10" y2="25.68" stroke="#222" stroke-width="0.5"/>
<line x1="378.90" y1="25.68" x2="381.30" y2="25.68" stroke="#222" stroke-width="0.5"/>
<rect x="320.70" y="119.14" width="3.40" height="3.40" fill="#fff" stroke="#111" stroke-width="0.6"/>
<rect x="328.30" y="119.14" width="3.40" height="3.40" fill="#fff" stroke="#111" stroke-width="0.6"/>
<rect x="346.80" y="119.14" width="3.40" height="3.40" fill="#fff" stroke="#111" stroke-width="0.6"/>
<rect x="353.40" y="115.38" width="3.40" height="3.40" fill="#fff" stroke="#111" stroke-width="0.6"/>
<rect x="378.40" y="32.43" width="3.40" height="3.40" fill="#fff" stroke="#111" stroke-width="0.6"/>
<rect x="285.80" y="119.80" width="3.00" height="3.00" fill="#111" stroke="#111" stroke-width="0.4"/>
<line x1="354.20" y1="8.90" x2="364.40" y2="8.90" stroke="#111" stroke-width="0.7"/>
<path d="M359.30 7.10 L361.10 8.90 L359.30 10.70 L357.50 8.90 Z" fill="#111" stroke="#111" stroke-width="0.3"/>
<text x="365.60" y="11.20" font-size="7.2" text-anchor="start" fill="#111" font-weight="normal" font-family='"Liberation Serif", serif'>Ova-beads</text>
<line x1="401.40" y1="8.40" x2="412.00" y2="8.40" stroke="#111" stroke-width="0.7"/>
<rect x="405.80" y="6.80" width="3.20" height="3.20" fill="#fff" stroke="#111" stroke-width="0.6"/>
<text x="413.30" y="10.80" font-size="7.2" text-anchor="start" fill="#111" font-weight="normal" font-family='"Liberation Serif", serif'>Ovalbumin</text>
<line x1="426.70" y1="18.00" x2="426.70" y2="63.80" stroke="#aaa" stroke-width="0.6"/>
<line x1="426.70" y1="63.80" x2="498.50" y2="63.80" stroke="#999" stroke-width="0.7"/>
<text x="425.20" y="65.70" font-size="6.3" text-anchor="end" fill="#444" font-weight="normal" font-family='"Liberation Serif", serif'>0</text>
<text x="425.20" y="50.60" font-size="5.0" text-anchor="end" fill="#bbb" font-weight="normal" font-family='"Liberation Serif", serif'>1</text>
<text x="425.20" y="34.20" font-size="5.0" text-anchor="end" fill="#bbb" font-weight="normal" font-family='"Liberation Serif", serif'>2</text>
<text x="425.20" y="20.90" font-size="6.3" text-anchor="end" fill="#444" font-weight="normal" font-family='"Liberation Serif", serif'>3</text>
<text x="427.30" y="70.40" font-size="6.2" text-anchor="middle" fill="#333" font-weight="normal" font-family='"Liberation Serif", serif'>0.01</text>
<text x="445.30" y="70.40" font-size="6.2" text-anchor="middle" fill="#333" font-weight="normal" font-family='"Liberation Serif", serif'>0.1</text>
<text x="463.30" y="70.40" font-size="6.2" text-anchor="middle" fill="#333" font-weight="normal" font-family='"Liberation Serif", serif'>1</text>
<text x="481.30" y="70.40" font-size="6.2" text-anchor="middle" fill="#333" font-weight="normal" font-family='"Liberation Serif", serif'>10</text>
<text x="499.30" y="70.40" font-size="6.2" text-anchor="middle" fill="#333" font-weight="normal" font-family='"Liberation Serif", serif'>100</text>
<text x="418.20" y="41.50" font-size="6.0" text-anchor="middle" fill="#222" font-weight="normal" font-family='"Liberation Serif", serif' transform="rotate(-90 418.20 41.50)">Stimulation index</text>
<text x="428.60" y="22.60" font-size="8.6" text-anchor="start" fill="#111" font-weight="bold" font-family='"Liberation Serif", serif'>M&#934;</text>
<path d="M427.20 63.80 L431.70 59.60 L436.80 52.85 L442.50 44.45 L448.60 24.80" fill="none" stroke="#111" stroke-width="0.7"/>
<circle cx="427.20" cy="63.80" r="1.10" fill="#111" stroke="#111" stroke-width="0.6"/>
<line x1="431.70" y1="59.60" x2="431.70" y2="55.85" stroke="#222" stroke-width="0.5"/>
<line x1="430.70" y1="55.85" x2="432.70" y2="55.85" stroke="#222" stroke-width="0.5"/>
<circle cx="431.70" cy="59.60" r="1.10" fill="#111" stroke="#111" stroke-width="0.6"/>
<line x1="436.80" y1="52.85" x2="436.80" y2="50.60" stroke="#222" stroke-width="0.5"/>
<line x1="435.80" y1="50.60" x2="437.80" y2="50.60" stroke="#222" stroke-width="0.5"/>
<circle cx="436.80" cy="52.85" r="1.10" fill="#111" stroke="#111" stroke-width="0.6"/>
<line x1="442.50" y1="44.45" x2="442.50" y2="41.45" stroke="#222" stroke-width="0.5"/>
<line x1="441.50" y1="41.45" x2="443.50" y2="41.45" stroke="#222" stroke-width="0.5"/>
<circle cx="442.50" cy="44.45" r="1.10" fill="#111" stroke="#111" stroke-width="0.6"/>
<line x1="448.60" y1="24.80" x2="448.60" y2="22.25" stroke="#222" stroke-width="0.5"/>
<line x1="447.60" y1="22.25" x2="449.60" y2="22.25" stroke="#222" stroke-width="0.5"/>
<circle cx="448.60" cy="24.80" r="1.10" fill="#111" stroke="#111" stroke-width="0.6"/>
<path d="M427.20 63.80 L433.00 63.50 L437.30 63.50 L442.90 63.50 L447.90 63.50 L453.70 62.45 L458.90 59.60 L462.80 59.15 L467.10 55.25 L472.70 46.55 L478.60 37.25 L483.40 21.95" fill="none" stroke="#111" stroke-width="0.7"/>
<line x1="433.00" y1="63.50" x2="433.00" y2="60.50" stroke="#222" stroke-width="0.6"/>
<line x1="431.90" y1="60.50" x2="434.10" y2="60.50" stroke="#222" stroke-width="0.6"/>
<line x1="437.30" y1="63.50" x2="437.30" y2="60.50" stroke="#222" stroke-width="0.6"/>
<line x1="436.20" y1="60.50" x2="438.40" y2="60.50" stroke="#222" stroke-width="0.6"/>
<line x1="442.90" y1="63.50" x2="442.90" y2="60.50" stroke="#222" stroke-width="0.6"/>
<line x1="441.80" y1="60.50" x2="444.00" y2="60.50" stroke="#222" stroke-width="0.6"/>
<line x1="447.90" y1="63.50" x2="447.90" y2="60.50" stroke="#222" stroke-width="0.6"/>
<line x1="446.80" y1="60.50" x2="449.00" y2="60.50" stroke="#222" stroke-width="0.6"/>
<line x1="453.70" y1="62.45" x2="453.70" y2="59.45" stroke="#222" stroke-width="0.6"/>
<line x1="452.60" y1="59.45" x2="454.80" y2="59.45" stroke="#222" stroke-width="0.6"/>
<line x1="458.90" y1="59.60" x2="458.90" y2="57.35" stroke="#222" stroke-width="0.6"/>
<line x1="457.80" y1="57.35" x2="460.00" y2="57.35" stroke="#222" stroke-width="0.6"/>
<line x1="462.80" y1="59.15" x2="462.80" y2="56.90" stroke="#222" stroke-width="0.6"/>
<line x1="461.70" y1="56.90" x2="463.90" y2="56.90" stroke="#222" stroke-width="0.6"/>
<line x1="467.10" y1="55.25" x2="467.10" y2="53.00" stroke="#222" stroke-width="0.6"/>
<line x1="466.00" y1="53.00" x2="468.20" y2="53.00" stroke="#222" stroke-width="0.6"/>
<line x1="472.70" y1="46.55" x2="472.70" y2="44.30" stroke="#222" stroke-width="0.6"/>
<line x1="471.60" y1="44.30" x2="473.80" y2="44.30" stroke="#222" stroke-width="0.6"/>
<line x1="478.60" y1="37.25" x2="478.60" y2="35.00" stroke="#222" stroke-width="0.6"/>
<line x1="477.50" y1="35.00" x2="479.70" y2="35.00" stroke="#222" stroke-width="0.6"/>
<line x1="483.40" y1="21.95" x2="483.40" y2="18.65" stroke="#222" stroke-width="0.6"/>
<line x1="482.30" y1="18.65" x2="484.50" y2="18.65" stroke="#222" stroke-width="0.6"/>
<circle cx="433.00" cy="63.50" r="1.10" fill="#fff" stroke="#111" stroke-width="0.5"/>
<circle cx="437.30" cy="63.50" r="1.10" fill="#fff" stroke="#111" stroke-width="0.5"/>
<circle cx="442.90" cy="63.50" r="1.10" fill="#fff" stroke="#111" stroke-width="0.5"/>
<circle cx="447.90" cy="63.50" r="1.10" fill="#fff" stroke="#111" stroke-width="0.5"/>
<circle cx="453.70" cy="62.45" r="1.10" fill="#fff" stroke="#111" stroke-width="0.5"/>
<circle cx="458.90" cy="59.60" r="1.10" fill="#fff" stroke="#111" stroke-width="0.5"/>
<circle cx="462.80" cy="59.15" r="1.10" fill="#fff" stroke="#111" stroke-width="0.5"/>
<circle cx="467.10" cy="55.25" r="1.10" fill="#fff" stroke="#111" stroke-width="0.5"/>
<circle cx="472.70" cy="46.55" r="1.10" fill="#fff" stroke="#111" stroke-width="0.5"/>
<circle cx="478.60" cy="37.25" r="1.10" fill="#fff" stroke="#111" stroke-width="0.5"/>
<circle cx="483.40" cy="21.95" r="1.10" fill="#fff" stroke="#111" stroke-width="0.5"/>
<rect x="426.00" y="62.60" width="2.40" height="2.40" fill="#111" stroke="#111" stroke-width="0.3"/>
<line x1="426.70" y1="75.50" x2="426.70" y2="122.40" stroke="#aaa" stroke-width="0.6"/>
<line x1="426.70" y1="122.40" x2="500.50" y2="122.40" stroke="#999" stroke-width="0.7"/>
<text x="425.20" y="78.00" font-size="6.3" text-anchor="end" fill="#444" font-weight="normal" font-family='"Liberation Serif", serif'>10</text>
<text x="425.20" y="96.70" font-size="5.0" text-anchor="end" fill="#bbb" font-weight="normal" font-family='"Liberation Serif", serif'>6</text>
<text x="425.20" y="114.50" font-size="5.0" text-anchor="end" fill="#bbb" font-weight="normal" font-family='"Liberation Serif", serif'>2</text>
<text x="425.20" y="123.20" font-size="6.3" text-anchor="end" fill="#444" font-weight="normal" font-family='"Liberation Serif", serif'>0</text>
<text x="428.10" y="129.60" font-size="6.2" text-anchor="middle" fill="#333" font-weight="normal" font-family='"Liberation Serif", serif'>0.01</text>
<text x="446.10" y="129.60" font-size="6.2" text-anchor="middle" fill="#333" font-weight="normal" font-family='"Liberation Serif", serif'>0.1</text>
<text x="464.10" y="129.60" font-size="6.2" text-anchor="middle" fill="#333" font-weight="normal" font-family='"Liberation Serif", serif'>1</text>
<text x="482.10" y="129.60" font-size="6.2" text-anchor="middle" fill="#333" font-weight="normal" font-family='"Liberation Serif", serif'>10</text>
<text x="500.10" y="129.60" font-size="6.2" text-anchor="middle" fill="#333" font-weight="normal" font-family='"Liberation Serif", serif'>100</text>
<text x="417.20" y="99.40" font-size="6.1" text-anchor="middle" fill="#222" font-weight="normal" font-family='"Liberation Serif", serif' transform="rotate(-90 417.20 99.40)">Stimulation index</text>
<text x="429.30" y="81.10" font-size="8.0" text-anchor="start" fill="#111" font-weight="bold" font-family='"Liberation Serif", serif'>DC</text>
<text x="464.50" y="136.00" font-size="6.6" text-anchor="middle" fill="#222" font-weight="normal" font-family='"Liberation Serif", serif'>Ovalbumin (&#956;M)</text>
<path d="M427.40 122.40 L432.20 120.68 L438.00 119.70 L443.10 104.73 L449.70 77.76" fill="none" stroke="#111" stroke-width="0.7"/>
<circle cx="427.40" cy="122.40" r="1.20" fill="#111" stroke="#111" stroke-width="0.6"/>
<line x1="432.20" y1="120.68" x2="432.20" y2="118.59" stroke="#222" stroke-width="0.6"/>
<line x1="431.00" y1="118.59" x2="433.40" y2="118.59" stroke="#222" stroke-width="0.6"/>
<circle cx="432.20" cy="120.68" r="1.20" fill="#111" stroke="#111" stroke-width="0.6"/>
<line x1="438.00" y1="119.70" x2="438.00" y2="116.45" stroke="#222" stroke-width="0.6"/>
<line x1="436.80" y1="116.45" x2="439.20" y2="116.45" stroke="#222" stroke-width="0.6"/>
<circle cx="438.00" cy="119.70" r="1.20" fill="#111" stroke="#111" stroke-width="0.6"/>
<line x1="443.10" y1="104.73" x2="443.10" y2="102.41" stroke="#222" stroke-width="0.6"/>
<line x1="441.90" y1="102.41" x2="444.30" y2="102.41" stroke="#222" stroke-width="0.6"/>
<circle cx="443.10" cy="104.73" r="1.20" fill="#111" stroke="#111" stroke-width="0.6"/>
<line x1="449.70" y1="77.76" x2="449.70" y2="74.97" stroke="#222" stroke-width="0.6"/>
<line x1="448.50" y1="74.97" x2="450.90" y2="74.97" stroke="#222" stroke-width="0.6"/>
<circle cx="449.70" cy="77.76" r="1.20" fill="#111" stroke="#111" stroke-width="0.6"/>
<path d="M427.40 122.40 L431.70 122.40 L437.50 122.40 L443.20 122.40 L449.20 121.94 L467.50 121.61 L478.50 117.19 L483.60 114.59 L489.40 109.52 L495.80 98.22 L500.90 79.16" fill="none" stroke="#111" stroke-width="0.7"/>
<line x1="449.20" y1="121.94" x2="449.20" y2="119.15" stroke="#222" stroke-width="0.6"/>
<line x1="448.00" y1="119.15" x2="450.40" y2="119.15" stroke="#222" stroke-width="0.6"/>
<line x1="467.50" y1="121.61" x2="467.50" y2="119.05" stroke="#222" stroke-width="0.6"/>
<line x1="466.30" y1="119.05" x2="468.70" y2="119.05" stroke="#222" stroke-width="0.6"/>
<line x1="478.50" y1="117.19" x2="478.50" y2="113.94" stroke="#222" stroke-width="0.6"/>
<line x1="477.30" y1="113.94" x2="479.70" y2="113.94" stroke="#222" stroke-width="0.6"/>
<line x1="483.60" y1="114.59" x2="483.60" y2="111.80" stroke="#222" stroke-width="0.6"/>
<line x1="482.40" y1="111.80" x2="484.80" y2="111.80" stroke="#222" stroke-width="0.6"/>
<line x1="489.40" y1="109.52" x2="489.40" y2="106.73" stroke="#222" stroke-width="0.6"/>
<line x1="488.20" y1="106.73" x2="490.60" y2="106.73" stroke="#222" stroke-width="0.6"/>
<line x1="495.80" y1="98.22" x2="495.80" y2="93.11" stroke="#222" stroke-width="0.6"/>
<line x1="494.60" y1="93.11" x2="497.00" y2="93.11" stroke="#222" stroke-width="0.6"/>
<line x1="500.90" y1="79.16" x2="500.90" y2="74.88" stroke="#222" stroke-width="0.6"/>
<line x1="499.70" y1="74.88" x2="502.10" y2="74.88" stroke="#222" stroke-width="0.6"/>
<circle cx="431.70" cy="122.40" r="1.20" fill="#fff" stroke="#111" stroke-width="0.5"/>
<circle cx="437.50" cy="122.40" r="1.20" fill="#fff" stroke="#111" stroke-width="0.5"/>
<circle cx="443.20" cy="122.40" r="1.20" fill="#fff" stroke="#111" stroke-width="0.5"/>
<circle cx="449.20" cy="121.94" r="1.20" fill="#fff" stroke="#111" stroke-width="0.5"/>
<circle cx="467.50" cy="121.61" r="1.20" fill="#fff" stroke="#111" stroke-width="0.5"/>
<circle cx="478.50" cy="117.19" r="1.20" fill="#fff" stroke="#111" stroke-width="0.5"/>
<circle cx="483.60" cy="114.59" r="1.20" fill="#fff" stroke="#111" stroke-width="0.5"/>
<circle cx="489.40" cy="109.52" r="1.20" fill="#fff" stroke="#111" stroke-width="0.5"/>
<circle cx="495.80" cy="98.22" r="1.20" fill="#fff" stroke="#111" stroke-width="0.5"/>
<circle cx="500.90" cy="79.16" r="1.20" fill="#fff" stroke="#111" stroke-width="0.5"/>
<rect x="426.20" y="121.20" width="2.40" height="2.40" fill="#111" stroke="#111" stroke-width="0.3"/>
<text x="272.20" y="154.50" font-size="11.5" text-anchor="start" fill="#111" font-weight="bold" font-family='"Liberation Sans", sans-serif'>F</text>
<line x1="291.70" y1="161.50" x2="291.70" y2="253.30" stroke="#999" stroke-width="0.6"/>
<line x1="291.70" y1="253.30" x2="388.00" y2="253.30" stroke="#bbb" stroke-width="0.6"/>
<line x1="290.20" y1="253.30" x2="291.70" y2="253.30" stroke="#999" stroke-width="0.5"/>
<line x1="290.20" y1="235.20" x2="291.70" y2="235.20" stroke="#999" stroke-width="0.5"/>
<line x1="290.20" y1="217.10" x2="291.70" y2="217.10" stroke="#999" stroke-width="0.5"/>
<line x1="290.20" y1="199.00" x2="291.70" y2="199.00" stroke="#999" stroke-width="0.5"/>
<line x1="290.20" y1="180.90" x2="291.70" y2="180.90" stroke="#999" stroke-width="0.5"/>
<line x1="290.20" y1="162.80" x2="291.70" y2="162.80" stroke="#999" stroke-width="0.5"/>
<text x="288.90" y="255.50" font-size="6.5" text-anchor="end" fill="#444" font-weight="normal" font-family='"Liberation Serif", serif'>0</text>
<text x="288.90" y="237.40" font-size="6.5" text-anchor="end" fill="#444" font-weight="normal" font-family='"Liberation Serif", serif'>1</text>
<text x="288.90" y="201.20" font-size="6.5" text-anchor="end" fill="#444" font-weight="normal" font-family='"Liberation Serif", serif'>3</text>
<text x="288.90" y="165.00" font-size="6.5" text-anchor="end" fill="#444" font-weight="normal" font-family='"Liberation Serif", serif'>5</text>
<text x="282.30" y="205.90" font-size="7.0" text-anchor="middle" fill="#222" font-weight="normal" font-family='"Liberation Serif", serif' transform="rotate(-90 282.30 205.90)">Stimulation index</text>
<text x="318.00" y="263.40" font-size="7.0" text-anchor="middle" fill="#222" font-weight="normal" font-family='"Liberation Serif", serif'>None</text>
<text x="363.70" y="263.40" font-size="7.0" text-anchor="middle" fill="#222" font-weight="normal" font-family='"Liberation Serif", serif'>Ovalbumin</text>
<rect x="303.80" y="252.60" width="29.50" height="1.30" fill="#666" stroke="none" stroke-width="0.6"/>
<rect x="348.20" y="170.94" width="10.30" height="82.36" fill="#111" stroke="#111" stroke-width="0.5"/>
<line x1="353.35" y1="170.94" x2="353.35" y2="162.26" stroke="#222" stroke-width="0.6"/>
<line x1="352.05" y1="162.26" x2="354.65" y2="162.26" stroke="#222" stroke-width="0.6"/>
<rect x="358.50" y="227.96" width="9.30" height="25.34" fill="#fff" stroke="#111" stroke-width="0.5"/>
<line x1="363.15" y1="227.96" x2="363.15" y2="222.17" stroke="#222" stroke-width="0.6"/>
<line x1="361.85" y1="222.17" x2="364.45" y2="222.17" stroke="#222" stroke-width="0.6"/>
<rect x="367.80" y="243.34" width="9.70" height="9.96" fill="#777" stroke="#111" stroke-width="0.5"/>
<line x1="372.65" y1="243.34" x2="372.65" y2="232.12" stroke="#222" stroke-width="0.6"/>
<line x1="371.35" y1="232.12" x2="373.95" y2="232.12" stroke="#222" stroke-width="0.6"/>
<rect x="299.40" y="164.25" width="3.10" height="3.10" fill="#111" stroke="#111" stroke-width="0.8"/>
<text x="303.80" y="168.10" font-size="6.6" text-anchor="start" fill="#111" font-weight="normal" font-family='"Liberation Serif", serif'>WT</text>
<rect x="299.40" y="171.95" width="3.10" height="3.10" fill="#fff" stroke="#111" stroke-width="0.8"/>
<text x="303.80" y="175.80" font-size="6.6" text-anchor="start" fill="#111" font-weight="normal" font-family='"Liberation Serif", serif'>TAP<tspan font-size="3.8" dy="-2.4">-/-</tspan></text>
<rect x="299.40" y="179.65" width="3.10" height="3.10" fill="#777" stroke="#111" stroke-width="0.8"/>
<text x="303.80" y="183.50" font-size="6.6" text-anchor="start" fill="#111" font-weight="normal" font-family='"Liberation Serif", serif'>WT+lactacystin</text>
<text x="396.70" y="154.60" font-size="11.5" text-anchor="start" fill="#111" font-weight="bold" font-family='"Liberation Sans", sans-serif'>G</text>
<line x1="420.10" y1="163.00" x2="420.10" y2="254.50" stroke="#999" stroke-width="0.6"/>
<line x1="420.10" y1="254.50" x2="517.00" y2="254.50" stroke="#bbb" stroke-width="0.6"/>
<text x="417.80" y="256.90" font-size="6.9" text-anchor="end" fill="#444" font-weight="normal" font-family='"Liberation Serif", serif'>0</text>
<text x="417.80" y="243.88" font-size="6.9" text-anchor="end" fill="#444" font-weight="normal" font-family='"Liberation Serif", serif'>2</text>
<text x="417.80" y="217.84" font-size="6.9" text-anchor="end" fill="#444" font-weight="normal" font-family='"Liberation Serif", serif'>6</text>
<text x="417.80" y="191.80" font-size="6.9" text-anchor="end" fill="#444" font-weight="normal" font-family='"Liberation Serif", serif'>10</text>
<text x="417.80" y="165.76" font-size="6.9" text-anchor="end" fill="#444" font-weight="normal" font-family='"Liberation Serif", serif'>14</text>
<text x="409.60" y="204.50" font-size="6.5" text-anchor="middle" fill="#222" font-weight="normal" font-family='"Liberation Serif", serif' transform="rotate(-90 409.60 204.50)">IFN-&#947; (ng/mL)</text>
<text x="472.40" y="266.90" font-size="7.15" text-anchor="middle" fill="#222" font-weight="normal" font-family='"Liberation Serif", serif'>Concentration (&#956;g/mL)</text>
<rect x="426.40" y="239.53" width="8.20" height="14.97" fill="#1a1a1a" stroke="#111" stroke-width="0.5"/>
<line x1="430.50" y1="239.53" x2="430.50" y2="233.67" stroke="#222" stroke-width="0.6"/>
<line x1="429.10" y1="233.67" x2="431.90" y2="233.67" stroke="#222" stroke-width="0.6"/>
<rect x="434.60" y="239.53" width="8.20" height="14.97" fill="#fff" stroke="#111" stroke-width="0.5"/>
<line x1="438.70" y1="239.53" x2="438.70" y2="232.37" stroke="#222" stroke-width="0.6"/>
<line x1="437.30" y1="232.37" x2="440.10" y2="232.37" stroke="#222" stroke-width="0.6"/>
<text x="434.60" y="261.00" font-size="6.3" text-anchor="middle" fill="#333" font-weight="normal" font-family='"Liberation Serif", serif'>0</text>
<rect x="450.95" y="202.42" width="8.20" height="52.08" fill="#1a1a1a" stroke="#111" stroke-width="0.5"/>
<line x1="455.05" y1="202.42" x2="455.05" y2="199.17" stroke="#222" stroke-width="0.6"/>
<line x1="453.65" y1="199.17" x2="456.45" y2="199.17" stroke="#222" stroke-width="0.6"/>
<rect x="459.15" y="238.22" width="8.20" height="16.28" fill="#fff" stroke="#111" stroke-width="0.5"/>
<line x1="463.25" y1="238.22" x2="463.25" y2="232.63" stroke="#222" stroke-width="0.6"/>
<line x1="461.85" y1="232.63" x2="464.65" y2="232.63" stroke="#222" stroke-width="0.6"/>
<text x="459.15" y="261.00" font-size="6.3" text-anchor="middle" fill="#333" font-weight="normal" font-family='"Liberation Serif", serif'>0.1</text>
<rect x="475.50" y="180.94" width="8.20" height="73.56" fill="#1a1a1a" stroke="#111" stroke-width="0.5"/>
<line x1="479.60" y1="180.94" x2="479.60" y2="175.73" stroke="#222" stroke-width="0.6"/>
<line x1="478.20" y1="175.73" x2="481.00" y2="175.73" stroke="#222" stroke-width="0.6"/>
<rect x="483.70" y="237.90" width="8.20" height="16.60" fill="#fff" stroke="#111" stroke-width="0.5"/>
<line x1="487.80" y1="237.90" x2="487.80" y2="233.99" stroke="#222" stroke-width="0.6"/>
<line x1="486.40" y1="233.99" x2="489.20" y2="233.99" stroke="#222" stroke-width="0.6"/>
<text x="483.70" y="261.00" font-size="6.3" text-anchor="middle" fill="#333" font-weight="normal" font-family='"Liberation Serif", serif'>1</text>
<rect x="500.05" y="176.05" width="8.20" height="78.45" fill="#1a1a1a" stroke="#111" stroke-width="0.5"/>
<line x1="504.15" y1="176.05" x2="504.15" y2="170.85" stroke="#222" stroke-width="0.6"/>
<line x1="502.75" y1="170.85" x2="505.55" y2="170.85" stroke="#222" stroke-width="0.6"/>
<rect x="508.25" y="237.90" width="8.20" height="16.60" fill="#fff" stroke="#111" stroke-width="0.5"/>
<line x1="512.35" y1="237.90" x2="512.35" y2="233.99" stroke="#222" stroke-width="0.6"/>
<line x1="510.95" y1="233.99" x2="513.75" y2="233.99" stroke="#222" stroke-width="0.6"/>
<text x="508.25" y="261.00" font-size="6.3" text-anchor="middle" fill="#333" font-weight="normal" font-family='"Liberation Serif", serif'>10</text>
<rect x="430.30" y="164.30" width="3.40" height="3.40" fill="#111" stroke="#111" stroke-width="0.8"/>
<text x="435.70" y="168.60" font-size="7.7" text-anchor="start" fill="#111" font-weight="normal" font-family='"Liberation Serif", serif'>NS3</text>
<rect x="430.30" y="173.80" width="3.40" height="3.40" fill="#fff" stroke="#111" stroke-width="0.8"/>
<text x="435.70" y="178.10" font-size="7.7" text-anchor="start" fill="#111" font-weight="normal" font-family='"Liberation Serif", serif'>OVA</text>
</svg>
</body></html>
